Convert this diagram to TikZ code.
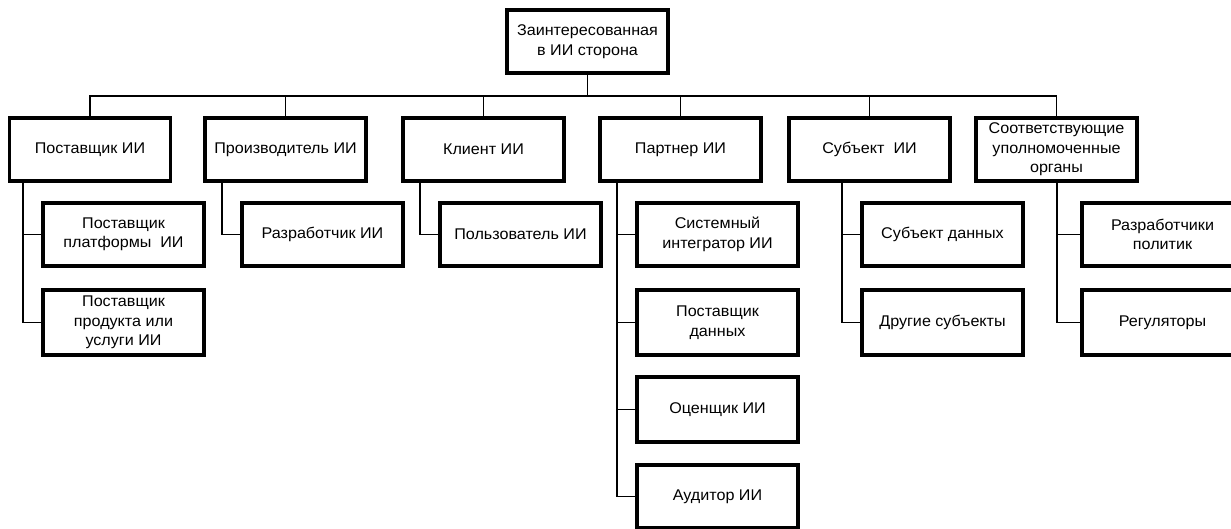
\documentclass[tikz,border=0pt]{standalone}
\usepackage{fontspec}
\setmainfont{Liberation Sans}[FakeStretch=1.04]
\begin{document}
\begin{tikzpicture}[x=1pt,y=-1pt,
  every node/.style={align=center, font=\fontsize{15.5}{19.5}\selectfont, inner sep=0pt},
  topbox/.style={draw, line width=3.2pt, minimum width=161pt, minimum height=63pt},
  lonebox/.style={draw, line width=3.1pt, minimum width=161pt, minimum height=63pt},
  ltwobox/.style={draw, line width=3.3pt, minimum width=161pt, minimum height=63pt},
  conn/.style={draw, line width=1.7pt}]
\useasboundingbox (0,0) rectangle (1231,528);
\fill[white] (0,0) rectangle (1231,528);
\clip (0,0) rectangle (1231,528);

% top
\node[topbox] (top) at (587.5,41.5) {Заинтересованная\\в ИИ сторона};

% level 1
\node[lonebox] (p1) at (90,149.5) {Поставщик ИИ};
\node[lonebox] (p2) at (285.5,149.5) {Производитель ИИ};
\node[lonebox] (p3) at (483.5,149.5) {Клиент ИИ};
\node[lonebox] (p4) at (680.5,149.5) {Партнер ИИ};
\node[lonebox] (p5) at (869.5,149.5) {Субъект\ \ ИИ};
\node[lonebox] (p6) at (1056.5,149.5) {Соответствующие\\уполномоченные\\органы};

% level 2
\node[ltwobox] (a1) at (123.5,234.5) {Поставщик\\платформы\ \ ИИ};
\node[ltwobox, minimum height=65pt] (a2) at (123.5,322.5) {Поставщик\\продукта или\\услуги ИИ};
\node[ltwobox] (b1) at (322.5,234.5) {Разработчик ИИ};
\node[ltwobox] (c1) at (520.5,234.5) {Пользователь ИИ};
\node[ltwobox] (d1) at (717.5,234.5) {Системный\\интегратор ИИ};
\node[ltwobox, minimum height=65pt] (d2) at (717.5,322.5) {Поставщик\\данных};
\node[ltwobox, minimum height=65pt] (d3) at (717.5,409.5) {Оценщик ИИ};
\node[ltwobox] (d4) at (717.5,496.5) {Аудитор ИИ};
\node[ltwobox] (e1) at (942.5,234.5) {Субъект данных};
\node[ltwobox, minimum height=65pt] (e2) at (942.5,322.5) {Другие субъекты};
\node[ltwobox] (f1) at (1162.5,234.5) {Разработчики\\политик};
\node[ltwobox, minimum height=65pt] (f2) at (1162.5,322.5) {Регуляторы};

% coordinates for bus and trunks
\coordinate (bus) at (0,96);
\coordinate (t1) at (23,0);
\coordinate (t2) at (222,0);
\coordinate (t3) at (420,0);
\coordinate (t4) at (617,0);
\coordinate (t5) at (842,0);
\coordinate (t6) at (1057,0);

% bus
\draw[conn] (p1.north) |- (p6.north |- bus) -- (p6.north);
\draw[conn] (top.south) -- (top.south |- bus);
\draw[conn] (p2.north) -- (p2.north |- bus);
\draw[conn] (p3.north) -- (p3.north |- bus);
\draw[conn] (p4.north) -- (p4.north |- bus);
\draw[conn] (p5.north) -- (p5.north |- bus);

% trunks
\draw[conn] (p1.south -| t1) |- (a2.west) (t1 |- a1.west) -- (a1.west);
\draw[conn] (p2.south -| t2) |- (b1.west);
\draw[conn] (p3.south -| t3) |- (c1.west);
\draw[conn] (p4.south -| t4) |- (d4.west) (t4 |- d1.west) -- (d1.west)
  (t4 |- d2.west) -- (d2.west) (t4 |- d3.west) -- (d3.west);
\draw[conn] (p5.south -| t5) |- (e2.west) (t5 |- e1.west) -- (e1.west);
\draw[conn] (p6.south -| t6) |- (f2.west) (t6 |- f1.west) -- (f1.west);
\end{tikzpicture}
\end{document}
